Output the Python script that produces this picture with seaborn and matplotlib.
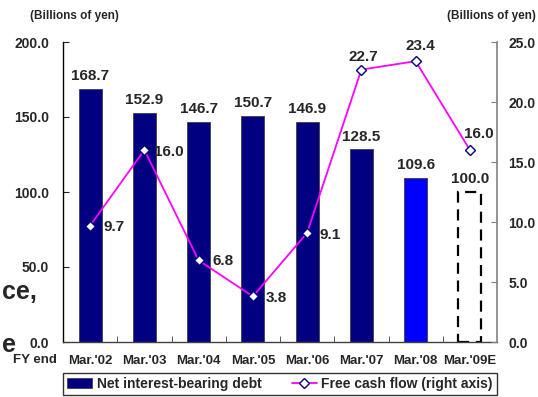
import numpy as np
import matplotlib
matplotlib.use("Agg")
import matplotlib.pyplot as plt
import seaborn as sns
from matplotlib.patches import Patch
from matplotlib.lines import Line2D

# Fiscal year ends and the two series
categories = ["Mar.'02", "Mar.'03", "Mar.'04", "Mar.'05", "Mar.'06", "Mar.'07", "Mar.'08", "Mar.'09E"]
net_debt = [168.7, 152.9, 146.7, 150.7, 146.9, 128.5, 109.6, 100.0]
free_cash_flow = [9.7, 16.0, 6.8, 3.8, 9.1, 22.7, 23.4, 16.0]
left_ticks = [0, 50, 100, 150, 200]
right_ticks = [0, 5, 10, 15, 20, 25]

NAVY = "#000080"
BRIGHT = "#0000FF"
MAGENTA = "#FF00FF"

sns.set_style("white")
plt.rcParams["font.family"] = ["Liberation Sans", "DejaVu Sans"]
plt.rcParams["font.weight"] = "bold"

fig = plt.figure(figsize=(5.38, 3.97), dpi=100)
ax = fig.add_axes([63 / 538, 1 - 342 / 397, (497 - 63) / 538, 300 / 397])

bar_colors = [NAVY] * 6 + [BRIGHT, "white"]
x = np.arange(len(categories))
sns.barplot(x=categories, y=net_debt, hue=categories, palette=bar_colors, legend=False,
            width=0.42, edgecolor="#404040", linewidth=0.6, ax=ax, saturation=1, zorder=2)

# Forecast bar: dashed outline only
forecast = ax.patches[-1]
forecast.set_facecolor("white")
forecast.set_edgecolor("black")
forecast.set_linewidth(1.6)
forecast.set_linestyle((0, (5, 3)))

ax.set_xlim(-0.5, len(categories) - 0.5)
ax.set_ylim(0, 200)
ax.set_yticks(left_ticks)
ax.set_yticklabels([f"{v:.1f}" for v in left_ticks], fontsize=10, fontweight="bold")
ax.set_xticks(x)
ax.set_xticklabels(categories, fontsize=9.5, fontweight="bold")
ax.set_xticks(np.arange(0.5, len(categories) - 1, 1.0), minor=True)
ax.tick_params(axis="x", which="major", length=0, pad=9)
ax.tick_params(axis="x", which="minor", direction="in", length=4, color="#404040", bottom=True)
ax.tick_params(axis="y", direction="in", length=4, pad=10, left=True)
ax.set_xlabel("")
ax.set_ylabel("")
for side in ["top", "right"]:
    ax.spines[side].set_visible(False)
ax.spines["left"].set_color("black")
ax.spines["bottom"].set_color("#404040")
for s in ax.spines.values():
    s.set_linewidth(1.0)

for i, v in enumerate(net_debt):
    ax.annotate(f"{v:.1f}", (i, v), xytext=(0, 4), textcoords="offset points",
                ha="center", va="bottom", fontsize=11, fontweight="bold")

# Free cash flow on the right axis
ax2 = ax.twinx()
sns.lineplot(x=x, y=free_cash_flow, ax=ax2, color=MAGENTA, linewidth=1.3,
             marker="D", markersize=5, markerfacecolor="white", markeredgecolor=NAVY,
             markeredgewidth=1.0, zorder=3)
ax2.set_ylim(0, 25)
ax2.set_yticks(right_ticks)
ax2.set_yticklabels([f"{v:.1f}" for v in right_ticks], fontsize=10, fontweight="bold")
ax2.tick_params(axis="y", direction="in", length=4, pad=8, right=True, color="#808080")
ax2.set_ylabel("")
for side in ["top", "left", "bottom"]:
    ax2.spines[side].set_visible(False)
ax2.spines["right"].set_color("#808080")
ax2.spines["right"].set_linewidth(1.2)

px = 0.72
fcf_offsets = [(13, -1, "left"), (10, -2, "left"), (14, -1, "left"), (13, -2, "left"),
               (12, -2, "left"), (2, 13, "center"), (5, 15, "center"), (9, 16, "center")]
for i, (v, (dx, dy, ha)) in enumerate(zip(free_cash_flow, fcf_offsets)):
    ax2.annotate(f"{v:.1f}", (i, v), xytext=(dx * px, dy * px), textcoords="offset points",
                 ha=ha, va="center", fontsize=11, fontweight="bold")

# Axis titles and side text
fig.text(30 / 538, 1 - 16 / 397, "(Billions of yen)", ha="left", va="center",
         fontsize=8.5, fontweight="bold")
fig.text(536 / 538, 1 - 16 / 397, "(Billions of yen)", ha="right", va="center",
         fontsize=8.5, fontweight="bold")
fig.text(57 / 538, 1 - 360 / 397, "FY end", ha="right", va="center",
         fontsize=9.5, fontweight="bold")
fig.text(0.003, 1 - 292 / 397, "ce,", ha="left", va="center", fontsize=18, fontweight="bold")
fig.text(0.003, 1 - 345 / 397, "e", ha="left", va="center", fontsize=18, fontweight="bold")

handles = [
    Patch(facecolor=NAVY, edgecolor="#404040", linewidth=0.6),
    Line2D([0], [0], color=MAGENTA, linewidth=1.3, marker="D", markersize=5,
           markerfacecolor="white", markeredgecolor=NAVY),
]
labels = ["Net interest-bearing debt", "Free cash flow (right axis)"]
leg = fig.legend(handles, labels, ncol=2, loc="center",
                 bbox_to_anchor=(280 / 538, 1 - 384 / 397),
                 prop={"size": 10, "weight": "bold"}, frameon=True, fancybox=False,
                 edgecolor="black", borderpad=0.3, handlelength=1.8, handletextpad=0.3,
                 columnspacing=2.2, borderaxespad=0)
leg.get_frame().set_linewidth(1.0)

fig.savefig("out.png", dpi=100)
